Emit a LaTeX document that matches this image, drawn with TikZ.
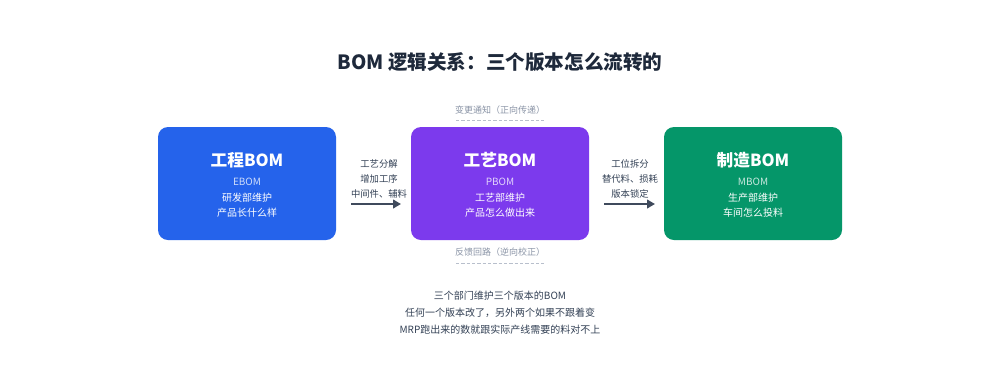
\documentclass[tikz,border=0pt]{standalone}
\usepackage{fontspec}
\setmainfont{Noto Sans CJK SC}
\usetikzlibrary{arrows.meta}
\definecolor{ebom}{HTML}{2563EB}
\definecolor{pbom}{HTML}{7C3AED}
\definecolor{mbom}{HTML}{059669}
\definecolor{titlec}{HTML}{1E293B}
\definecolor{arrowc}{HTML}{3F4A5C}
\definecolor{labelc}{HTML}{334155}
\definecolor{grayc}{HTML}{8A94A6}
\definecolor{dashc}{HTML}{B8BFCC}
\tikzset{
  bombox/.style={rounded corners=7.5pt, minimum width=133.5pt, minimum height=84.75pt, inner sep=0pt},
  boxtitle/.style={text=white, font=\fontsize{12.5pt}{15pt}\selectfont\bfseries},
  boxsub/.style={text=white, opacity=0.78, font=\fontsize{7.5pt}{9pt}\selectfont},
  boxtxt/.style={text=white, align=center, font=\fontsize{7.5pt}{11.25pt}\selectfont},
  arrlabel/.style={text=labelc, align=center, font=\fontsize{7pt}{11.25pt}\selectfont},
  flow/.style={draw=arrowc, line width=1.5pt, -{Triangle[length=6pt,width=6.5pt]}},
  notelabel/.style={text=grayc, font=\fontsize{6.75pt}{8pt}\selectfont, inner sep=0pt},
  dashline/.style={draw=dashc, line width=0.6pt, dash pattern=on 2.5pt off 1.5pt},
  foot/.style={text=labelc, align=center, font=\fontsize{7.5pt}{12.75pt}\selectfont}
}
\begin{document}
\begin{tikzpicture}[x=0.75pt,y=-0.75pt]
\useasboundingbox (0,0) rectangle (1000,387);
\fill[white] (0,0) rectangle (1000,387);
\node[text=titlec, font=\fontsize{14.7pt}{18pt}\selectfont\bfseries] (title) at (500,62) {BOM 逻辑关系：三个版本怎么流转的};

\node[bombox, fill=ebom] (e) at (247,183.5) {};
\node[bombox, fill=pbom] (p) at (500,183.5) {};
\node[bombox, fill=mbom] (m) at (753,183.5) {};

\node[boxtitle] (et) at (247,160) {工程BOM};
\node[boxsub] (es) at (247,182) {EBOM};
\node[boxtxt] (ed) at (247,205.5) {研发部维护\\产品长什么样};

\node[boxtitle] (pt) at (500,160) {工艺BOM};
\node[boxsub] (ps) at (500,182) {PBOM};
\node[boxtxt] (pd) at (500,205.5) {工艺部维护\\产品怎么做出来};

\node[boxtitle] (mt) at (753,160) {制造BOM};
\node[boxsub] (ms) at (753,182) {MBOM};
\node[boxtxt] (md) at (753,205.5) {生产部维护\\车间怎么投料};

\coordinate (e1) at (336,204);
\coordinate (p0) at (411,204);
\coordinate (p1) at (589,204);
\coordinate (m0) at (664,204);
\draw[flow, shorten <=11.25pt, shorten >=7.5pt] (e1) -- (p0);
\draw[flow, shorten <=11.25pt, shorten >=6.75pt] (p1) -- (m0);
\node[arrlabel] (l1) at (379,179) {工艺分解\\增加工序\\中间件、辅料};
\node[arrlabel] (l2) at (630,179) {工位拆分\\替代料、损耗\\版本锁定};

\node[notelabel] (top) at (500,110) {变更通知（正向传递）};
\coordinate (ta) at (456,120);
\coordinate (tb) at (544,120);
\draw[dashline] (ta) -- (tb);
\node[notelabel] (bot) at (500,252) {反馈回路（逆向校正）};
\coordinate (ba) at (456,263);
\coordinate (bb) at (544,263);
\draw[dashline] (ba) -- (bb);

\node[foot] (f) at (500,313) {三个部门维护三个版本的BOM\\任何一个版本改了，另外两个如果不跟着变\\MRP跑出来的数就跟实际产线需要的料对不上};
\end{tikzpicture}
\end{document}
